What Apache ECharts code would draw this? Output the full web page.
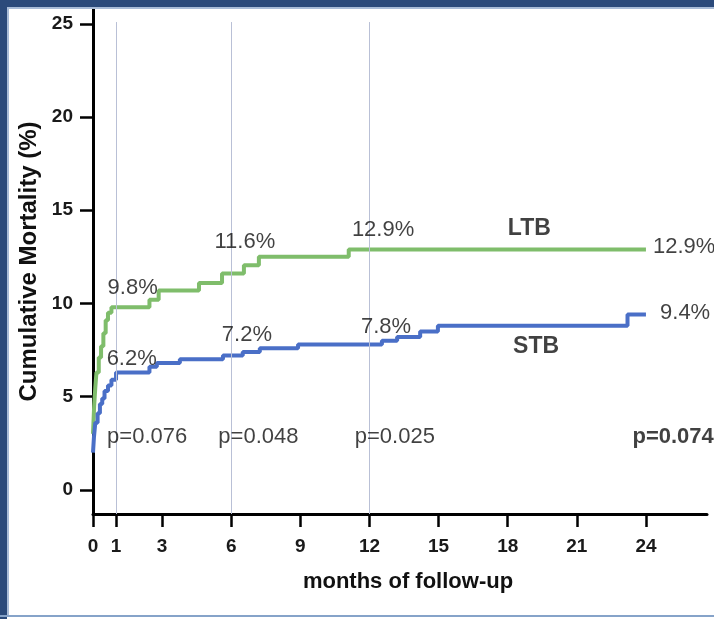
<!DOCTYPE html>
<html>
<head>
<meta charset="utf-8">
<script src="https://cdn.jsdelivr.net/npm/echarts@6/dist/echarts.min.js"></script>
<style>
html,body{margin:0;padding:0;background:#fff;}
#chart{width:714px;height:619px;}
</style>
</head>
<body>
<div id="chart"></div>
<script>
// ---- data (months of follow-up, cumulative mortality %) ----
const ltbMonths = [0, 0.05, 0.1, 0.15, 0.25, 0.35, 0.45, 0.55, 0.65, 0.8, 2.45, 2.85, 4.6, 5.6, 6.55, 7.2, 11.1, 24];
const ltbValues = [3.0, 4.5, 5.5, 6.3, 7.1, 7.7, 8.4, 9.1, 9.5, 9.8, 10.2, 10.7, 11.1, 11.6, 12.05, 12.5, 12.9, 12.9];
const stbMonths = [0, 0.04, 0.1, 0.2, 0.3, 0.4, 0.5, 0.65, 0.8, 1.0, 2.45, 2.77, 3.77, 5.64, 6.5, 7.24, 8.9, 12.54, 13.2, 14.2, 14.97, 23.2, 24];
const stbValues = [2.0, 2.8, 3.6, 4.1, 4.6, 4.9, 5.3, 5.6, 5.9, 6.3, 6.6, 6.8, 7.0, 7.2, 7.4, 7.6, 7.8, 8.0, 8.2, 8.5, 8.8, 9.4, 9.4];
const xTicks = [0, 1, 3, 6, 9, 12, 15, 18, 21, 24];
const yTicks = [0, 5, 10, 15, 20, 25];
const refMonths = [1, 6, 12];
const annoTexts = ['9.8%', '6.2%', '11.6%', '7.2%', '12.9%', '7.8%', 'LTB', 'STB', '12.9%', '9.4%', 'p=0.076', 'p=0.048', 'p=0.025', 'p=0.074'];
const annoBold  = [false, false, false, false, false, false, true, true, false, false, false, false, false, true];

// label anchor points in data units (month, %)
const annoAnchors = [
  [1.72, 10.84], [1.68, 7.0], [6.59, 13.28], [6.68, 8.29], [12.59, 13.92], [12.72, 8.72],
  [18.94, 14.03], [19.23, 7.70], [25.66, 13.01], [25.7, 9.47],
  [2.35, 2.82], [7.18, 2.82], [13.1, 2.82], [25.18, 2.85]
];

const FONT = '"Liberation Sans", Arial, Helvetica, sans-serif';
const chart = echarts.init(document.getElementById('chart'), null, {renderer: 'canvas'});

const zip = (a, b) => a.map((v, i) => [v, b[i]]);

const option = {
  animation: false,
  backgroundColor: '#ffffff',
  textStyle: {fontFamily: FONT},
  grid: {left: 93, right: 7, top: 9, bottom: 105, containLabel: false},
  xAxis: {
    type: 'value', min: 0, max: 26.65,
    name: 'months of follow-up', nameLocation: 'middle', nameGap: 57,
    nameTextStyle: {fontFamily: FONT, fontSize: 22, fontWeight: 'bold', color: '#111', padding: [0, 0, 0, 16]},
    axisLine: {show: true, onZero: false, lineStyle: {color: '#000', width: 3}},
    axisTick: {show: true, customValues: xTicks, length: 13, lineStyle: {color: '#000', width: 2.5}},
    axisLabel: {customValues: xTicks, fontFamily: FONT, fontSize: 19, fontWeight: 'bold', color: '#1a1a1a', margin: 23},
    splitLine: {show: false}
  },
  yAxis: {
    type: 'value', min: -1.3, max: 25.8,
    name: 'Cumulative Mortality (%)', nameLocation: 'middle', nameGap: 48, nameRotate: 90,
    nameTextStyle: {fontFamily: FONT, fontSize: 24, fontWeight: 'bold', color: '#111'},
    axisLine: {show: true, onZero: false, lineStyle: {color: '#000', width: 3}},
    axisTick: {show: true, customValues: yTicks, length: 13, lineStyle: {color: '#000', width: 2.5}},
    axisLabel: {customValues: yTicks, fontFamily: FONT, fontSize: 19, fontWeight: 'bold', color: '#1a1a1a', margin: 20},
    splitLine: {show: false}
  },
  graphic: [
    {type: 'rect', shape: {x: 0, y: 0, width: 714, height: 7}, style: {fill: '#2b4a7b'}, z: 100},
    {type: 'rect', shape: {x: 0, y: 7, width: 714, height: 2}, style: {fill: '#a9bcd8'}, z: 100},
    {type: 'rect', shape: {x: 0, y: 0, width: 7, height: 619}, style: {fill: '#2b4a7b'}, z: 100},
    {type: 'rect', shape: {x: 7, y: 9, width: 2, height: 607}, style: {fill: '#a9bcd8'}, z: 100},
    {type: 'rect', shape: {x: 0, y: 615, width: 714, height: 2}, style: {fill: '#86a3c9'}, z: 100}
  ],
  series: [
    {
      name: 'ref', type: 'line', data: [], silent: true,
      markLine: {
        silent: true, symbol: ['none', 'none'], label: {show: false},
        lineStyle: {color: '#b9c0d6', width: 1, type: 'solid'},
        data: refMonths.map(m => [{coord: [m, 25.1]}, {coord: [m, -1.3]}])
      }
    },
    {
      name: 'LTB', type: 'line', step: 'end', showSymbol: false, symbol: 'none',
      data: zip(ltbMonths, ltbValues),
      lineStyle: {color: '#7fbd6b', width: 4}, itemStyle: {color: '#7fbd6b'}, z: 3
    },
    {
      name: 'STB', type: 'line', step: 'end', showSymbol: false, symbol: 'none',
      data: zip(stbMonths, stbValues),
      lineStyle: {color: '#4a6fc7', width: 4}, itemStyle: {color: '#4a6fc7'}, z: 4
    },
    {
      name: 'annotations', type: 'scatter', clip: false, silent: true,
      symbolSize: 1, itemStyle: {color: 'rgba(0,0,0,0)'}, z: 5,
      data: annoTexts.map((t, i) => ({
        value: annoAnchors[i],
        label: {
          show: true, position: 'inside', formatter: t,
          fontFamily: FONT, fontSize: (annoBold[i] && t.length === 3) ? 23 : 22,
          fontWeight: annoBold[i] ? 'bold' : 'normal',
          color: '#111', textBorderWidth: 0, align: 'center', verticalAlign: 'middle'
        }
      }))
    }
  ]
};
chart.setOption(option);
</script>
</body>
</html>
